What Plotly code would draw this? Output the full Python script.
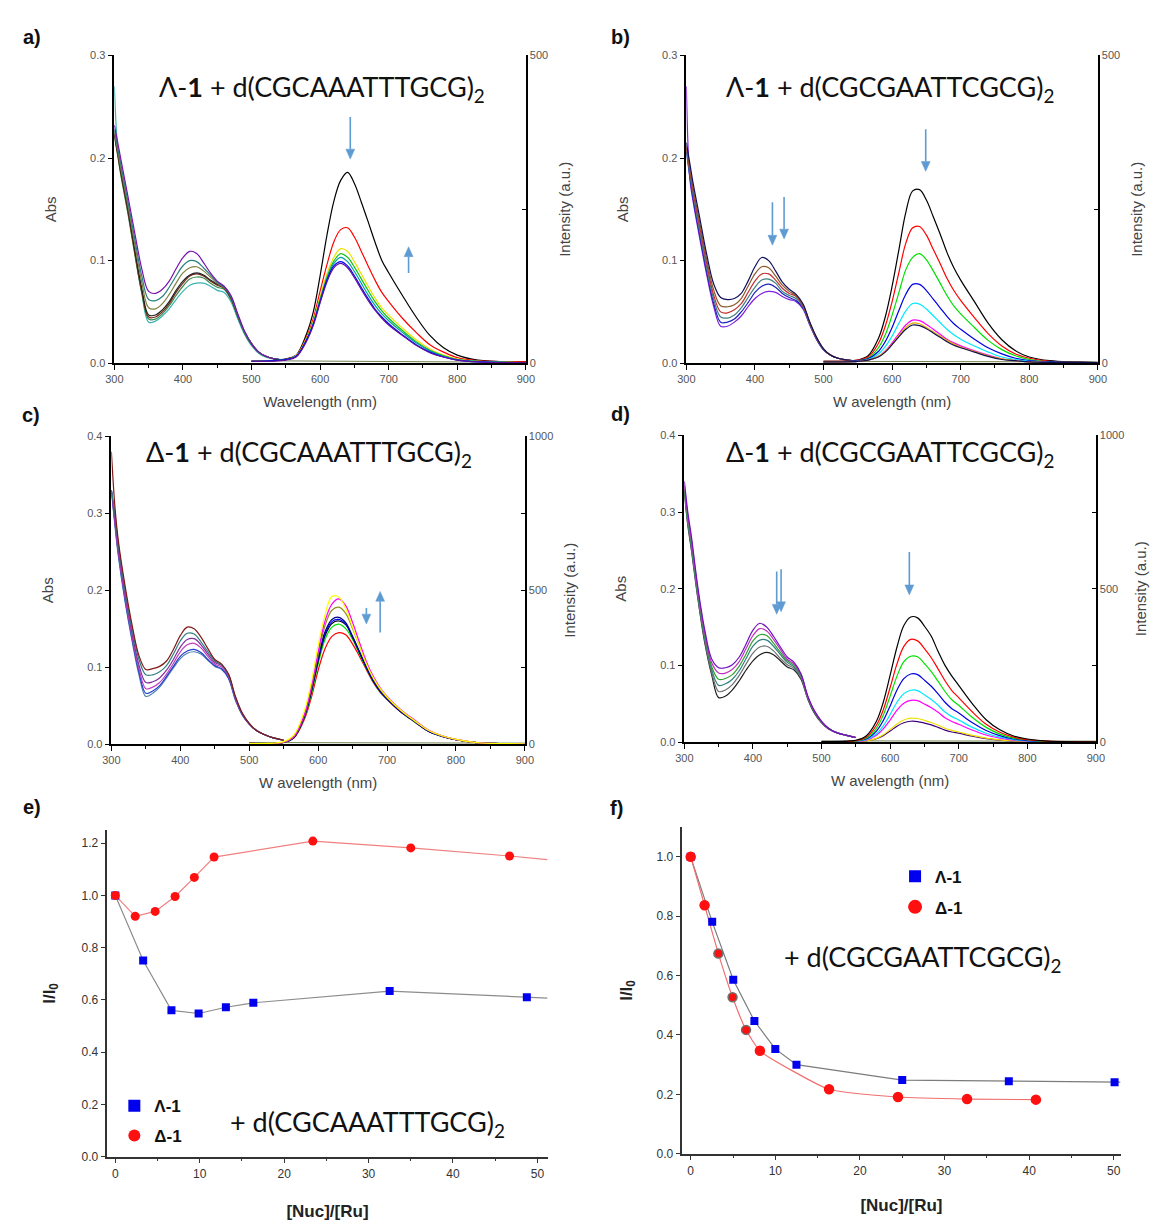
import plotly.graph_objects as go

# ---------------- DATA ----------------
abs_wl = [300, 305, 310, 320, 330, 340, 350, 360, 370, 380, 390, 400, 410, 420, 430,
          440, 450, 460, 470, 480, 490, 500, 510, 520, 535, 550]
em_wl = [500, 550, 565, 580, 590, 600, 610, 620, 630, 640, 650, 660, 670, 680, 690,
         700, 720, 740, 760, 780, 800, 830, 900]
base_wl = [500, 600, 700, 800, 900]

# panel a : Lambda-1 + d(CGCAAATTTGCG)2
a_abs_purple = [0.232, 0.215, 0.197, 0.162, 0.126, 0.092, 0.070, 0.068, 0.072, 0.080, 0.092, 0.103, 0.109, 0.107, 0.098, 0.088, 0.080, 0.075, 0.066, 0.048, 0.031, 0.019, 0.011, 0.007, 0.004, 0.003]
a_abs_dcyan = [0.228, 0.210, 0.192, 0.157, 0.120, 0.085, 0.062, 0.061, 0.065, 0.074, 0.085, 0.095, 0.100, 0.099, 0.093, 0.086, 0.079, 0.074, 0.065, 0.047, 0.030, 0.019, 0.011, 0.007, 0.004, 0.003]
a_abs_olive = [0.226, 0.207, 0.188, 0.153, 0.115, 0.079, 0.054, 0.053, 0.058, 0.067, 0.078, 0.088, 0.093, 0.094, 0.090, 0.084, 0.078, 0.074, 0.065, 0.047, 0.030, 0.019, 0.011, 0.007, 0.004, 0.003]
a_abs_black = [0.224, 0.205, 0.185, 0.150, 0.110, 0.073, 0.047, 0.047, 0.052, 0.060, 0.071, 0.080, 0.086, 0.088, 0.086, 0.081, 0.077, 0.074, 0.064, 0.046, 0.030, 0.019, 0.011, 0.007, 0.004, 0.003]
a_abs_wine = [0.222, 0.203, 0.183, 0.147, 0.107, 0.070, 0.045, 0.045, 0.050, 0.058, 0.069, 0.078, 0.085, 0.087, 0.085, 0.080, 0.076, 0.073, 0.063, 0.046, 0.030, 0.019, 0.011, 0.007, 0.004, 0.003]
a_abs_green = [0.222, 0.202, 0.181, 0.145, 0.105, 0.069, 0.043, 0.043, 0.048, 0.056, 0.066, 0.075, 0.082, 0.084, 0.083, 0.078, 0.074, 0.072, 0.062, 0.045, 0.029, 0.018, 0.011, 0.007, 0.004, 0.003]
a_abs_cyan = [0.270, 0.210, 0.190, 0.150, 0.108, 0.068, 0.040, 0.041, 0.046, 0.053, 0.062, 0.070, 0.076, 0.078, 0.078, 0.075, 0.071, 0.069, 0.060, 0.043, 0.028, 0.017, 0.010, 0.006, 0.004, 0.003]
a_em_black = [3, 7, 13, 47, 83, 142, 208, 263, 297, 310, 292, 262, 230, 197, 167, 147, 110, 75, 45, 25, 13, 5, 2]
a_em_red = [3, 6, 12, 42, 72, 117, 160, 197, 217, 220, 205, 182, 158, 135, 115, 100, 73, 50, 30, 18, 9, 4, 2]
a_em_yellow = [3, 6, 12, 40, 68, 108, 145, 172, 186, 182, 165, 145, 125, 106, 90, 78, 57, 38, 23, 13, 7, 3, 1]
a_em_green = [3, 6, 11, 38, 65, 104, 140, 166, 178, 172, 156, 137, 118, 100, 85, 73, 53, 35, 21, 12, 6, 3, 1]
a_em_teal = [3, 6, 11, 37, 64, 102, 137, 162, 172, 165, 149, 130, 111, 94, 80, 69, 50, 33, 20, 11, 6, 3, 1]
a_em_blue = [3, 6, 11, 37, 63, 100, 135, 158, 165, 158, 142, 123, 105, 88, 75, 64, 46, 30, 18, 10, 5, 2, 1]
a_em_purple = [3, 5, 10, 35, 61, 98, 132, 155, 162, 155, 139, 120, 102, 86, 73, 62, 45, 29, 17, 10, 5, 2, 1]
a_em_base = [4, 3, 3, 2, 2]

# panel b : Lambda-1 + d(CGCGAATTCGCG)2
b_abs_navy = [0.215, 0.195, 0.175, 0.140, 0.105, 0.077, 0.064, 0.062, 0.063, 0.068, 0.080, 0.094, 0.103, 0.100, 0.090, 0.079, 0.072, 0.067, 0.058, 0.040, 0.025, 0.014, 0.008, 0.005, 0.003, 0.002]
b_abs_brown = [0.212, 0.190, 0.170, 0.135, 0.100, 0.071, 0.056, 0.055, 0.057, 0.063, 0.075, 0.087, 0.094, 0.093, 0.085, 0.076, 0.070, 0.066, 0.057, 0.040, 0.025, 0.014, 0.008, 0.005, 0.003, 0.002]
b_abs_red = [0.210, 0.188, 0.167, 0.131, 0.096, 0.066, 0.050, 0.049, 0.052, 0.058, 0.069, 0.080, 0.087, 0.087, 0.081, 0.073, 0.068, 0.065, 0.056, 0.039, 0.024, 0.014, 0.008, 0.005, 0.003, 0.002]
b_abs_dcyan = [0.208, 0.185, 0.164, 0.127, 0.092, 0.062, 0.045, 0.044, 0.047, 0.054, 0.064, 0.074, 0.081, 0.082, 0.078, 0.070, 0.066, 0.063, 0.055, 0.038, 0.024, 0.013, 0.008, 0.005, 0.003, 0.002]
b_abs_blue = [0.206, 0.182, 0.160, 0.123, 0.088, 0.058, 0.040, 0.040, 0.043, 0.050, 0.059, 0.069, 0.075, 0.077, 0.074, 0.068, 0.064, 0.061, 0.054, 0.038, 0.023, 0.013, 0.008, 0.005, 0.003, 0.002]
b_abs_violet = [0.270, 0.180, 0.157, 0.120, 0.085, 0.055, 0.036, 0.036, 0.040, 0.046, 0.055, 0.063, 0.068, 0.070, 0.069, 0.065, 0.062, 0.060, 0.053, 0.037, 0.023, 0.013, 0.008, 0.005, 0.003, 0.002]
b_em_black = [3, 5, 12, 40, 75, 125, 185, 245, 280, 282, 265, 238, 210, 180, 155, 135, 100, 65, 38, 20, 10, 4, 1]
b_em_red = [3, 5, 10, 32, 60, 100, 148, 195, 220, 222, 208, 185, 162, 138, 118, 102, 74, 48, 28, 15, 8, 3, 1]
b_em_green = [2, 4, 8, 25, 46, 78, 115, 152, 172, 178, 168, 150, 130, 110, 93, 80, 58, 37, 22, 12, 6, 2, 1]
b_em_blue = [2, 4, 7, 19, 35, 58, 86, 112, 128, 128, 118, 104, 90, 76, 64, 55, 39, 25, 15, 8, 4, 2, 1]
b_em_cyan = [2, 3, 6, 15, 27, 44, 65, 85, 97, 96, 88, 77, 66, 55, 46, 39, 28, 18, 10, 6, 3, 1, 1]
b_em_magenta = [2, 3, 5, 11, 20, 33, 48, 62, 70, 69, 63, 55, 47, 39, 33, 28, 20, 13, 7, 4, 2, 1, 1]
b_em_yellow = [2, 3, 5, 11, 19, 31, 45, 58, 65, 64, 58, 51, 44, 37, 31, 26, 19, 12, 7, 4, 2, 1, 1]
b_em_navy = [2, 3, 5, 10, 18, 30, 43, 55, 62, 61, 56, 49, 42, 35, 29, 25, 18, 11, 6, 4, 2, 1, 1]
b_em_base = [3, 3, 2, 2, 2]

# panel c : Delta-1 + d(CGCAAATTTGCG)2
c_abs_maroon = [0.380, 0.310, 0.265, 0.205, 0.155, 0.115, 0.097, 0.098, 0.101, 0.108, 0.123, 0.141, 0.152, 0.150, 0.139, 0.124, 0.110, 0.104, 0.091, 0.062, 0.040, 0.027, 0.018, 0.013, 0.008, 0.005]
c_abs_dcyan = [0.330, 0.300, 0.260, 0.200, 0.150, 0.110, 0.090, 0.090, 0.094, 0.102, 0.117, 0.134, 0.144, 0.143, 0.133, 0.120, 0.108, 0.103, 0.090, 0.061, 0.040, 0.027, 0.018, 0.013, 0.008, 0.005]
c_abs_purple = [0.330, 0.295, 0.255, 0.195, 0.145, 0.103, 0.080, 0.081, 0.086, 0.096, 0.110, 0.126, 0.136, 0.137, 0.129, 0.117, 0.106, 0.102, 0.089, 0.060, 0.039, 0.026, 0.018, 0.013, 0.008, 0.005]
c_abs_magenta = [0.330, 0.290, 0.250, 0.190, 0.140, 0.098, 0.072, 0.074, 0.080, 0.091, 0.105, 0.120, 0.129, 0.131, 0.125, 0.114, 0.104, 0.100, 0.088, 0.059, 0.039, 0.026, 0.018, 0.013, 0.008, 0.005]
c_abs_blue = [0.330, 0.288, 0.248, 0.187, 0.137, 0.094, 0.066, 0.069, 0.076, 0.088, 0.101, 0.114, 0.121, 0.123, 0.119, 0.110, 0.102, 0.098, 0.086, 0.058, 0.038, 0.026, 0.018, 0.013, 0.008, 0.005]
c_abs_steel = [0.330, 0.285, 0.245, 0.184, 0.134, 0.090, 0.062, 0.066, 0.074, 0.086, 0.099, 0.111, 0.118, 0.120, 0.117, 0.109, 0.101, 0.097, 0.085, 0.057, 0.038, 0.026, 0.018, 0.013, 0.008, 0.005]
c_em_red = [2, 5, 20, 80, 150, 240, 310, 350, 362, 355, 325, 285, 242, 200, 168, 145, 104, 72, 42, 25, 14, 5, 1]
c_em_green = [2, 5, 22, 85, 160, 260, 340, 380, 390, 375, 340, 292, 246, 203, 170, 146, 105, 72, 42, 25, 14, 5, 1]
c_em_black = [2, 5, 21, 88, 168, 270, 352, 392, 400, 388, 346, 298, 250, 207, 173, 148, 106, 74, 43, 26, 14, 5, 1]
c_em_blue = [2, 6, 23, 90, 172, 275, 358, 398, 405, 390, 347, 298, 249, 205, 171, 146, 105, 73, 42, 25, 14, 5, 1]
c_em_navy = [2, 6, 24, 92, 175, 280, 365, 405, 412, 395, 350, 300, 250, 205, 172, 147, 105, 73, 42, 25, 14, 5, 1]
c_em_olive = [2, 6, 24, 94, 180, 290, 385, 435, 445, 425, 375, 318, 260, 213, 178, 151, 108, 75, 44, 26, 15, 5, 1]
c_em_magenta = [2, 6, 25, 95, 185, 300, 400, 455, 472, 450, 395, 330, 268, 220, 183, 155, 112, 78, 46, 27, 15, 5, 1]
c_em_yellow = [2, 8, 30, 108, 200, 320, 420, 480, 478, 440, 380, 318, 260, 215, 180, 153, 110, 76, 45, 27, 15, 5, 1]
c_em_base = [5, 5, 4, 4, 3]

# panel d : Delta-1 + d(CGCGAATTCGCG)2
d_abs_purple = [0.340, 0.300, 0.270, 0.200, 0.145, 0.108, 0.097, 0.097, 0.101, 0.111, 0.128, 0.146, 0.155, 0.150, 0.138, 0.124, 0.111, 0.104, 0.089, 0.060, 0.040, 0.027, 0.018, 0.013, 0.009, 0.006]
d_abs_magenta = [0.335, 0.295, 0.265, 0.196, 0.141, 0.103, 0.090, 0.090, 0.095, 0.105, 0.122, 0.139, 0.148, 0.145, 0.134, 0.121, 0.108, 0.102, 0.088, 0.059, 0.040, 0.027, 0.018, 0.013, 0.009, 0.006]
d_abs_green = [0.330, 0.290, 0.260, 0.192, 0.137, 0.098, 0.082, 0.083, 0.088, 0.099, 0.115, 0.132, 0.140, 0.139, 0.129, 0.117, 0.106, 0.100, 0.087, 0.059, 0.039, 0.026, 0.018, 0.013, 0.009, 0.006]
d_abs_dcyan = [0.328, 0.288, 0.258, 0.190, 0.134, 0.094, 0.074, 0.076, 0.082, 0.093, 0.109, 0.125, 0.133, 0.133, 0.125, 0.114, 0.104, 0.098, 0.086, 0.058, 0.039, 0.026, 0.018, 0.013, 0.009, 0.006]
d_abs_gray = [0.326, 0.285, 0.255, 0.187, 0.131, 0.090, 0.066, 0.068, 0.075, 0.087, 0.102, 0.116, 0.124, 0.125, 0.119, 0.109, 0.101, 0.096, 0.084, 0.057, 0.038, 0.026, 0.018, 0.013, 0.009, 0.006]
d_abs_black = [0.325, 0.283, 0.252, 0.185, 0.128, 0.087, 0.058, 0.060, 0.068, 0.080, 0.094, 0.106, 0.114, 0.117, 0.114, 0.106, 0.098, 0.094, 0.082, 0.056, 0.037, 0.025, 0.017, 0.013, 0.009, 0.006]
d_em_black = [2, 6, 20, 68, 130, 218, 310, 380, 408, 405, 378, 345, 295, 250, 215, 185, 125, 73, 40, 20, 10, 3, 1]
d_em_red = [2, 5, 16, 55, 105, 178, 255, 312, 335, 330, 305, 275, 238, 200, 168, 145, 98, 58, 32, 16, 8, 3, 1]
d_em_green = [2, 4, 13, 45, 88, 150, 215, 262, 280, 278, 256, 230, 198, 165, 138, 120, 80, 48, 26, 13, 7, 2, 1]
d_em_blue = [2, 4, 10, 36, 70, 118, 170, 207, 222, 220, 202, 182, 157, 130, 109, 95, 63, 38, 21, 10, 5, 2, 1]
d_em_cyan = [1, 3, 8, 27, 53, 90, 130, 158, 169, 168, 154, 139, 120, 98, 83, 72, 48, 29, 16, 8, 4, 1, 1]
d_em_magenta = [1, 2, 6, 22, 43, 72, 104, 127, 136, 135, 124, 112, 97, 79, 67, 58, 39, 23, 13, 6, 3, 1, 1]
d_em_yellow = [1, 2, 4, 12, 24, 41, 59, 72, 78, 77, 71, 64, 55, 45, 38, 33, 22, 13, 7, 4, 2, 1, 1]
d_em_purple = [1, 2, 4, 11, 21, 36, 52, 63, 68, 67, 62, 56, 48, 39, 33, 29, 19, 11, 6, 3, 2, 1, 1]
d_em_base = [4, 4, 3, 3, 3]

# panel e : I/I0 vs [Nuc]/[Ru], d(CGCAAATTTGCG)2
e_lam_x = [0, 3.3, 6.65, 9.87, 13.1, 16.35, 32.5, 48.75]
e_lam_y = [1.0, 0.751, 0.560, 0.548, 0.572, 0.589, 0.634, 0.610]
e_del_x = [0, 2.36, 4.72, 7.08, 9.36, 11.7, 23.4, 35.0, 46.7]
e_del_y = [1.0, 0.920, 0.939, 0.996, 1.069, 1.147, 1.208, 1.182, 1.151]
e_lam_line_end = [51.2, 0.607]
e_del_line_end = [51.2, 1.137]

# panel f : I/I0 vs [Nuc]/[Ru], d(CGCGAATTCGCG)2
f_lam_x = [0, 2.54, 5.03, 7.53, 10.0, 12.5, 25.0, 37.6, 50.1]
f_lam_y = [1.0, 0.781, 0.586, 0.447, 0.353, 0.300, 0.248, 0.244, 0.241]
f_del_x = [0, 1.64, 3.27, 4.95, 6.54, 8.18, 16.35, 24.5, 32.66, 40.8]
f_del_y = [1.0, 0.837, 0.674, 0.527, 0.417, 0.347, 0.217, 0.191, 0.184, 0.182]
f_lam_line_end = [50.8, 0.241]

series_names = ["Λ-1", "Δ-1"]
x_ticks_wl = [300, 400, 500, 600, 700, 800, 900]
x_ticks_nuc = [0, 10, 20, 30, 40, 50]

# ---------------- FIGURE ----------------
W, H = 1162, 1223
def px(x):
    return x / W
def py(y):
    return 1 - y / H

FONT = "Liberation Sans"
TITLE_FONT = "Lato"
ARROW = "#5f9bd3"
TICKC = "#555555"

fig = go.Figure()

panels = [
    dict(key="a", x="x", y="y", y2="y2", xd=(107, 525), yd=(361, 50), amax=0.3, emax=500,
         xtitle="Wavelength (nm)",
         abs=[(a_abs_cyan, "#3cb4b4"), (a_abs_green, "#3c8c50"), (a_abs_wine, "#7a2a1a"),
              (a_abs_black, "#222222"), (a_abs_olive, "#808040"), (a_abs_dcyan, "#2a8080"),
              (a_abs_purple, "#7a10b0")],
         em=[(a_em_black, "#000000"), (a_em_red, "#ff0000"), (a_em_yellow, "#f0e000"),
             (a_em_green, "#10c010"), (a_em_teal, "#00a0a0"), (a_em_blue, "#0000ff"),
             (a_em_purple, "#6010a0")],
         base=a_em_base,
         arrows=[(644, 0.240, 0.199), (729, 0.088, 0.1135)]),
    dict(key="b", x="x2", y="y3", y2="y4", xd=(688, 1106), yd=(361, 50), amax=0.3, emax=500,
         xtitle="W avelength (nm)",
         abs=[(b_abs_violet, "#8020e0"), (b_abs_blue, "#2020c0"), (b_abs_dcyan, "#408080"),
              (b_abs_red, "#c03030"), (b_abs_brown, "#8b5a2b"), (b_abs_navy, "#101060")],
         em=[(b_em_black, "#000000"), (b_em_red, "#ff0000"), (b_em_green, "#00e000"),
             (b_em_blue, "#0000e0"), (b_em_cyan, "#00e8ff"), (b_em_magenta, "#ff00ff"),
             (b_em_yellow, "#e0b000"), (b_em_navy, "#101050")],
         base=b_em_base,
         arrows=[(649, 0.228, 0.187), (425.5, 0.157, 0.115), (442.5, 0.162, 0.121)]),
    dict(key="c", x="x3", y="y5", y2="y6", xd=(104, 524), yd=(746, 435), amax=0.4, emax=1000,
         xtitle="W avelength (nm)",
         abs=[(c_abs_steel, "#5080b0"), (c_abs_blue, "#2040d0"), (c_abs_magenta, "#c040c0"),
              (c_abs_purple, "#8030a0"), (c_abs_dcyan, "#308080"), (c_abs_maroon, "#801818")],
         em=[(c_em_red, "#ff0000"), (c_em_green, "#00e000"), (c_em_black, "#000000"),
             (c_em_blue, "#0000ff"), (c_em_navy, "#000080"), (c_em_olive, "#909020"),
             (c_em_magenta, "#ff00ff"), (c_em_yellow, "#ffff00")],
         base=c_em_base,
         arrows=[(670, 0.177, 0.156), (690, 0.145, 0.1985)]),
    dict(key="d", x="x4", y="y7", y2="y8", xd=(686, 1104), yd=(744, 434), amax=0.4, emax=1000,
         xtitle="W avelength (nm)",
         abs=[(d_abs_black, "#202020"), (d_abs_gray, "#707070"), (d_abs_dcyan, "#308080"),
              (d_abs_green, "#30a030"), (d_abs_magenta, "#c030c0"), (d_abs_purple, "#7010c0")],
         em=[(d_em_purple, "#400080"), (d_em_yellow, "#f0e000"), (d_em_magenta, "#ff00ff"),
             (d_em_cyan, "#00e8ff"), (d_em_blue, "#0000e0"), (d_em_green, "#00e000"),
             (d_em_red, "#ff0000"), (d_em_black, "#000000")],
         base=d_em_base,
         arrows=[(628, 0.248, 0.192), (434.6, 0.2225, 0.1667), (441, 0.2255, 0.170)]),
]

TF = dict(family=FONT, size=15, color="#444")
shapes = []
for p in panels:
    for vals, col in p["abs"]:
        fig.add_trace(go.Scatter(x=abs_wl, y=vals, mode="lines", line=dict(color=col, width=1.2, shape="spline"),
                                 xaxis=p["x"], yaxis=p["y"], showlegend=False, hoverinfo="skip"))
    fig.add_trace(go.Scatter(x=base_wl, y=p["base"], mode="lines", line=dict(color="#708050", width=1),
                             xaxis=p["x"], yaxis=p["y2"], showlegend=False, hoverinfo="skip"))
    for vals, col in p["em"]:
        fig.add_trace(go.Scatter(x=em_wl, y=vals, mode="lines", line=dict(color=col, width=1.2, shape="spline"),
                                 xaxis=p["x"], yaxis=p["y2"], showlegend=False, hoverinfo="skip"))

    n = p["x"][1:]
    xname = "xaxis" + n
    yname = "yaxis" + p["y"][1:]
    y2name = "yaxis" + p["y2"][1:]
    tickfont = dict(family=FONT, size=11, color=TICKC)
    fig.layout[xname] = dict(domain=[px(p["xd"][0]), px(p["xd"][1])], anchor=p["y"], range=[300, 900],
                             tickvals=x_ticks_wl, ticks="outside", ticklen=5, tickwidth=1.2, tickcolor="#000",
                             minor=dict(ticks="outside", ticklen=3, dtick=50, tickcolor="#000"),
                             showline=True, linecolor="#000", linewidth=1.5, showgrid=False, zeroline=False,
                             tickfont=tickfont, title=dict(text=p["xtitle"], font=TF, standoff=12))
    ad = p["amax"]
    fig.layout[yname] = dict(domain=[py(p["yd"][0]), py(p["yd"][1])], anchor=p["x"], range=[0, ad],
                             dtick=0.1, tickformat=".1f", ticks="outside", ticklen=5, tickwidth=1.2, tickcolor="#000",
                             showline=True, linecolor="#000", linewidth=1.5, showgrid=False, zeroline=False,
                             tickfont=tickfont, title=dict(text="Abs", font=TF, standoff=30))
    em = p["emax"]
    if em == 1000:
        tv, mv = [0, 500, 1000], [250, 750]
    else:
        tv, mv = [0, 500], [250]
    fig.layout[y2name] = dict(overlaying=p["y"], side="right", anchor=p["x"], range=[0, em],
                              tickvals=tv, ticks="inside", ticklen=4, tickwidth=1.2, tickcolor="#000",
                              minor=dict(tickvals=mv, ticks="inside", ticklen=4, tickcolor="#000"),
                              showline=True, linecolor="#000", linewidth=1.5, showgrid=False, zeroline=False,
                              tickfont=tickfont, title=dict(text="Intensity (a.u.)", font=TF, standoff=12))

    # arrows drawn as shapes (shaft + filled head)
    dxpp = 600.0 / (p["xd"][1] - p["xd"][0])
    dypp = ad / (p["yd"][0] - p["yd"][1])
    L, hw = 10, 4.5
    for x, y0, y1 in p["arrows"]:
        s = 1 if y1 > y0 else -1
        yb = y1 - s * L * dypp
        shapes.append(dict(type="line", xref=p["x"], yref=p["y"], x0=x, x1=x, y0=y0, y1=yb,
                           line=dict(color=ARROW, width=1.6)))
        shapes.append(dict(type="path", xref=p["x"], yref=p["y"],
                           path=f"M {x - hw * dxpp},{yb} L {x + hw * dxpp},{yb} L {x},{y1} Z",
                           fillcolor=ARROW, line=dict(color=ARROW, width=0.5)))

# panel e
fig.add_trace(go.Scatter(x=e_lam_x + [e_lam_line_end[0]], y=e_lam_y + [e_lam_line_end[1]], mode="lines",
                         line=dict(color="#8c8c8c", width=1.2), xaxis="x5", yaxis="y9", showlegend=False))
fig.add_trace(go.Scatter(x=e_del_x + [e_del_line_end[0]], y=e_del_y + [e_del_line_end[1]], mode="lines",
                         line=dict(color="#f08080", width=1.2), xaxis="x5", yaxis="y9", showlegend=False))
fig.add_trace(go.Scatter(x=e_lam_x, y=e_lam_y, mode="markers", name="<b>" + series_names[0] + "</b>",
                         marker=dict(symbol="square", size=8, color="#0000ee"), xaxis="x5", yaxis="y9",
                         legend="legend"))
fig.add_trace(go.Scatter(x=e_del_x, y=e_del_y, mode="markers", name="<b>" + series_names[1] + "</b>",
                         marker=dict(symbol="circle", size=9, color="#ff1010"), xaxis="x5", yaxis="y9",
                         legend="legend2"))

# panel f
fig.add_trace(go.Scatter(x=f_lam_x + [f_lam_line_end[0]], y=f_lam_y + [f_lam_line_end[1]], mode="lines",
                         line=dict(color="#7c7c7c", width=1.2), xaxis="x6", yaxis="y10", showlegend=False))
fig.add_trace(go.Scatter(x=f_del_x, y=f_del_y, mode="lines",
                         line=dict(color="#f07070", width=1.2, shape="spline", smoothing=0.5), xaxis="x6", yaxis="y10",
                         showlegend=False))
fig.add_trace(go.Scatter(x=f_lam_x, y=f_lam_y, mode="markers", name="<b>" + series_names[0] + "</b>",
                         marker=dict(symbol="square", size=8, color="#0000ee"), xaxis="x6", yaxis="y10",
                         legend="legend3"))
edge = ["#ff1010", "#ff1010", "#707070", "#707070", "#707070", "#ff1010", "#ff1010", "#ff1010", "#ff1010", "#ff1010"]
fig.add_trace(go.Scatter(x=f_del_x, y=f_del_y, mode="markers", name="<b>" + series_names[1] + "</b>",
                         marker=dict(symbol="circle", size=9, color="#ff1010", line=dict(color=edge, width=1.5)),
                         xaxis="x6", yaxis="y10", legend="legend4"))

BT = dict(family=FONT, size=17, color="#222")
axis_common = dict(ticks="outside", ticklen=5, tickwidth=1.2, tickcolor="#333", showline=True, linecolor="#333",
                   linewidth=1.5, showgrid=False, zeroline=False, tickfont=dict(family=FONT, size=12, color="#333"))
fig.layout["xaxis5"] = dict(domain=[px(100), px(547)], anchor="y9", range=[-0.93, 51.2], tickvals=x_ticks_nuc,
                            minor=dict(ticks="outside", ticklen=3, dtick=5, tickcolor="#333"),
                            title=dict(text="<b>[Nuc]/[Ru]</b>", font=BT, standoff=25), **axis_common)
fig.layout["yaxis9"] = dict(domain=[py(1163), py(833)], anchor="x5", range=[0, 1.25], dtick=0.2, tickformat=".1f",
                            title=dict(text="<b>I/I<sub>0</sub></b>", font=BT, standoff=22), **axis_common)
fig.layout["xaxis6"] = dict(domain=[px(684), px(1129)], anchor="y10", range=[-0.98, 50.8], tickvals=x_ticks_nuc,
                            minor=dict(ticks="outside", ticklen=3, dtick=5, tickcolor="#333"),
                            title=dict(text="<b>[Nuc]/[Ru]</b>", font=BT, standoff=22), **axis_common)
fig.layout["yaxis10"] = dict(domain=[py(1160), py(830)], anchor="x6", range=[0, 1.1], dtick=0.2, tickformat=".1f",
                             title=dict(text="<b>I/I<sub>0</sub></b>", font=BT, standoff=20), **axis_common)

leg = dict(xanchor="left", yanchor="middle", bgcolor="rgba(0,0,0,0)", itemsizing="constant",
           font=dict(family=FONT, size=17, color="#111"))
fig.update_layout(
    legend=dict(x=px(107), y=py(1112), **leg),
    legend2=dict(x=px(107), y=py(1142), **leg),
    legend3=dict(x=px(900), y=py(880), **leg),
    legend4=dict(x=px(900), y=py(911), **leg),
)

ann = []
# panel letters
for t, x, y in [("a)", 23, 31), ("b)", 621, 31), ("c)", 22, 413), ("d)", 621, 412), ("e)", 23, 810), ("f)", 617, 811)]:
    ann.append(dict(text="<b>" + t + "</b>", x=px(x), y=py(y), xref="paper", yref="paper", showarrow=False,
                    xanchor="center", yanchor="middle", font=dict(family=FONT, size=20, color="#111")))
# panel titles
for t, x, y in [("Λ-<b>1</b> + d(CGCAAATTTGCG)<sub>2</sub>", 318, 83),
                ("Λ-<b>1</b> + d(CGCGAATTCGCG)<sub>2</sub>", 895, 83),
                ("Δ-<b>1</b> + d(CGCAAATTTGCG)<sub>2</sub>", 305, 452),
                ("Δ-<b>1</b> + d(CGCGAATTCGCG)<sub>2</sub>", 895, 452),
                ("+ d(CGCAAATTTGCG)<sub>2</sub>", 364, 1130),
                ("+ d(CGCGAATTCGCG)<sub>2</sub>", 928, 963)]:
    ann.append(dict(text=t, x=px(x), y=py(y), xref="paper", yref="paper", showarrow=False,
                    xanchor="center", yanchor="middle", font=dict(family=TITLE_FONT, size=27, color="#111")))

fig.update_layout(width=W, height=H, margin=dict(l=0, r=0, t=0, b=0), paper_bgcolor="white",
                  plot_bgcolor="white", annotations=ann, shapes=shapes, font=dict(family=FONT))

fig.write_html("out.html")
